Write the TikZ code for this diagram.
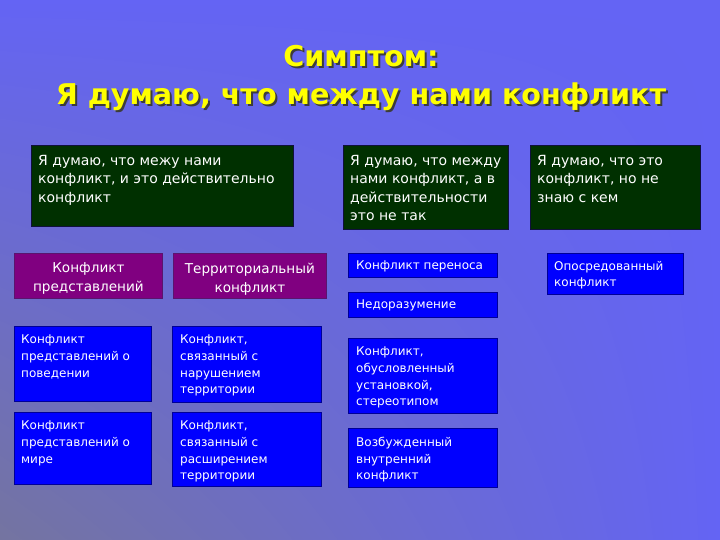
\documentclass[tikz,border=0pt]{standalone}
\usepackage{fontspec}
\setmainfont{DejaVu Sans}
\usetikzlibrary{calc,shadings}
\definecolor{bgA}{RGB}{100,100,244}
\definecolor{bgB}{RGB}{116,116,160}
\definecolor{ttl}{RGB}{255,255,0}
\definecolor{tsh}{RGB}{60,60,60}
\definecolor{gfill}{RGB}{0,48,0}
\definecolor{gedge}{RGB}{16,16,60}
\definecolor{pfill}{RGB}{128,0,128}
\definecolor{pedge}{RGB}{90,20,110}
\definecolor{bfill}{RGB}{0,0,255}
\definecolor{bedge}{RGB}{0,0,150}
\newcommand{\shadowtext}[1]{\makebox[0pt][l]{\hspace{2pt}\raisebox{-2pt}{\textcolor{tsh}{#1}}}\textcolor{ttl}{#1}}
\tikzset{
  x=1pt,y=-1pt,
  boxbase/.style={anchor=north west, inner sep=0pt, line width=0.8pt},
  gbox/.style={boxbase, fill=gfill, draw=gedge},
  pbox/.style={boxbase, fill=pfill, draw=pedge},
  bbox/.style={boxbase, fill=bfill, draw=bedge},
  gtxt/.style={anchor=north west, inner sep=0pt, align=left, text=white, font=\fontsize{14}{18.5}\selectfont},
  ptxt/.style={inner sep=0pt, align=center, text=white, font=\fontsize{13.6}{19}\selectfont},
  btxt/.style={anchor=north west, inner sep=0pt, align=left, text=white, font=\fontsize{12}{16.6}\selectfont},
  title/.style={inner sep=0pt, font=\bfseries\fontsize{28.6}{40}\selectfont},
}
\newcommand{\mkbox}[6]{% style, name, x1, y1, x2, y2
  \node[#1, minimum width=#5-#3, minimum height=#6-#4] (#2) at (#3,#4) {};}
\begin{document}
\begin{tikzpicture}
\useasboundingbox (0,0) rectangle (720,540);
\shade[upper left=bgA, upper right=bgA, lower left=bgB, lower right=bgA] (0,0) rectangle (720,540);
% title
\node[title] (t1) at (361,57) {\shadowtext{Симптом:}};
\node[title] (t2) at (361,98) {\shadowtext{Я думаю, что между нами конфликт}};
% green boxes
\mkbox{gbox}{g1}{31}{145}{293}{226}
\node[gtxt] at ($(g1.north west)+(7,10)$) {Я думаю, что межу нами\\конфликт, и это действительно\\конфликт};
\mkbox{gbox}{g2}{343}{145}{508}{229}
\node[gtxt] at ($(g2.north west)+(7,10)$) {Я думаю, что между\\нами конфликт, а в\\действительности\\это не так};
\mkbox{gbox}{g3}{530}{145}{700}{229}
\node[gtxt] at ($(g3.north west)+(7,10)$) {Я думаю, что это\\конфликт, но не\\знаю с кем};
% purple boxes
\mkbox{pbox}{p1}{14}{253}{162}{298}
\node[ptxt] at ($(p1.center)+(0,3)$) {Конфликт\\представлений};
\mkbox{pbox}{p2}{173}{253}{326}{298}
\node[ptxt] at ($(p2.center)+(0,3)$) {Территориальный\\конфликт};
% blue boxes, right
\mkbox{bbox}{b1}{348}{253}{497}{277}
\node[btxt] at ($(b1.north west)+(8,8)$) {Конфликт переноса};
\mkbox{bbox}{b2}{348}{292}{497}{317}
\node[btxt] at ($(b2.north west)+(8,8)$) {Недоразумение};
\mkbox{bbox}{b3}{547}{253}{683}{294}
\node[btxt] at ($(b3.north west)+(7,8)$) {Опосредованный\\конфликт};
\mkbox{bbox}{b4}{348}{338}{497}{413}
\node[btxt] at ($(b4.north west)+(8,9)$) {Конфликт,\\обусловленный\\установкой,\\стереотипом};
\mkbox{bbox}{b5}{348}{428}{497}{487}
\node[btxt] at ($(b5.north west)+(8,9)$) {Возбужденный\\внутренний\\конфликт};
% blue boxes, left
\mkbox{bbox}{b6}{14}{326}{151}{401}
\node[btxt] at ($(b6.north west)+(7,9)$) {Конфликт\\представлений о\\поведении};
\mkbox{bbox}{b7}{172}{326}{321}{402}
\node[btxt] at ($(b7.north west)+(8,9)$) {Конфликт,\\связанный с\\нарушением\\территории};
\mkbox{bbox}{b8}{14}{412}{151}{484}
\node[btxt] at ($(b8.north west)+(7,9)$) {Конфликт\\представлений о\\мире};
\mkbox{bbox}{b9}{172}{412}{321}{486}
\node[btxt] at ($(b9.north west)+(8,9)$) {Конфликт,\\связанный с\\расширением\\территории};
\end{tikzpicture}
\end{document}
